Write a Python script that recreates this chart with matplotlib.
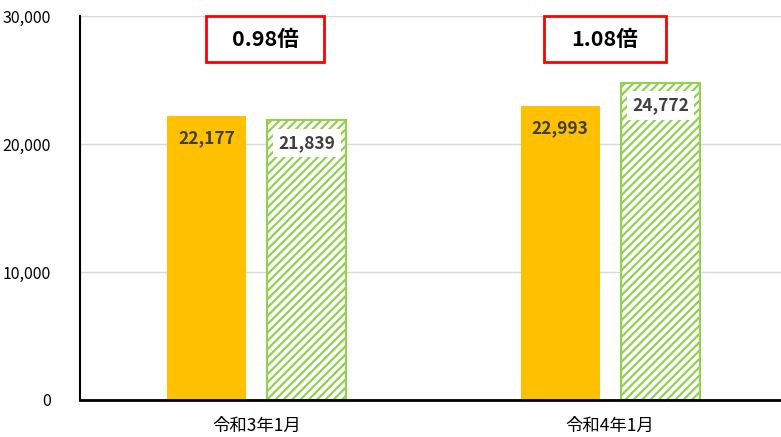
import matplotlib
matplotlib.use("Agg")
import matplotlib.pyplot as plt
from matplotlib.patches import Rectangle
import numpy as np

plt.rcParams['font.family'] = ['Noto Sans CJK JP', 'DejaVu Sans']
plt.rcParams['hatch.linewidth'] = 1.6
plt.rcParams['hatch.color'] = '#92D050'

categories = ['令和3年1月', '令和4年1月']
series_a = [22177, 22993]
series_b = [21839, 24772]
ratios = ['0.98倍', '1.08倍']
yticks = [0, 10000, 20000, 30000]

fig = plt.figure(figsize=(7.81, 4.37), dpi=100)
ax = fig.add_axes([80/781, 1-400/437, 707/781, 384/437])

x = np.arange(len(categories))
w = 0.2235
off = 0.142
ax.bar(x - off, series_a, width=w, color='#FFC000', zorder=3)
ax.bar(x + off, series_b, width=w, facecolor='white', edgecolor='#92D050',
       hatch='////', linewidth=1.5, zorder=3)

for xi, v in zip(x, series_a):
    ax.text(xi - off, v - 1750, f'{v:,}', ha='center', va='center',
            fontsize=12.5, fontweight='bold', color='#404040', zorder=5)
for xi, v in zip(x, series_b):
    ax.text(xi + off, v - 1750, f'{v:,}', ha='center', va='center',
            fontsize=12.5, fontweight='bold', color='#404040', zorder=5,
            bbox=dict(boxstyle='square,pad=0.3', facecolor='white', edgecolor='none'))

# ratio boxes (data coords): left edge, width
box_left = [-0.1436, 0.8126]
box_w = [0.334, 0.345]
box_bottom, box_h = 26400, 3600
for bl, bw, r in zip(box_left, box_w, ratios):
    ax.add_patch(Rectangle((bl, box_bottom), bw, box_h, facecolor='white',
                           edgecolor='#FF0000', linewidth=2, zorder=6, clip_on=False))
    ax.text(bl + bw/2, box_bottom + box_h/2, r, ha='center', va='center',
            fontsize=15.5, fontweight='bold', color='black', zorder=7)

ax.set_xlim(-0.5, 1.5)
ax.set_ylim(0, 30000)
ax.set_yticks(yticks)
ax.set_yticklabels([f'{t:,}' for t in yticks], fontsize=11.5)
ax.set_xticks(x)
ax.set_xticklabels(categories, fontsize=12.5)
ax.tick_params(axis='x', length=0, pad=12)
ax.tick_params(axis='y', length=0, pad=21)
ax.grid(axis='y', color='#D9D9D9', linewidth=1, zorder=0)
for s in ['top', 'right']:
    ax.spines[s].set_visible(False)
ax.spines['left'].set_linewidth(1.5)
ax.spines['bottom'].set_linewidth(2)
ax.spines['left'].set_zorder(4)
ax.spines['bottom'].set_zorder(4)

fig.savefig('out.png', dpi=100)
